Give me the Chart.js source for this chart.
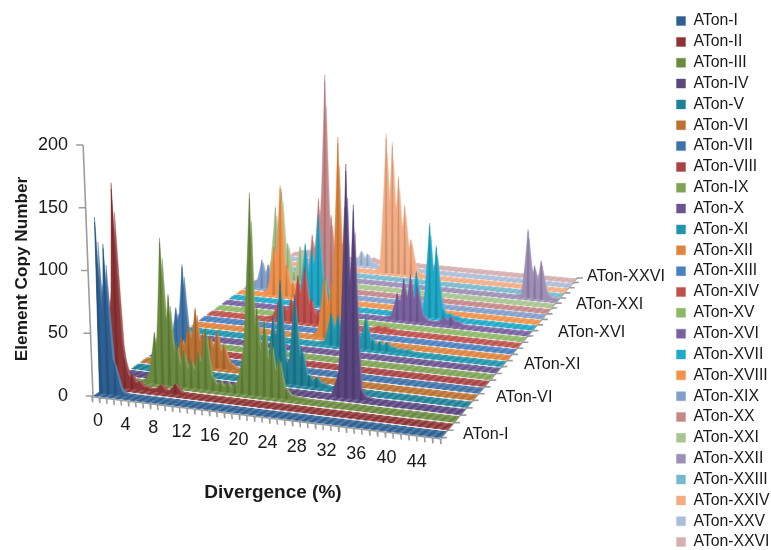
<!DOCTYPE html>
<html>
<head>
<meta charset="utf-8">
<title>Element Copy Number</title>
<style>
  body { margin: 0; background: #fff; }
  canvas { display: block; }
</style>
<script src="https://cdn.jsdelivr.net/npm/chart.js@4"></script>
</head>
<body>
<canvas id="chart" width="771" height="550"></canvas>
<script>
// Copy number per 1% divergence bin, 0 to 45
const atonI     = [141,120,25,3,0,0,0,0,0,0, 0,0,0,0,0,0,0,0,0,0, 0,0,0,0,0,0,0,0,0,0, 0,0,0,0,0,0,0,0,0,0, 0,0,0,0,0,0];
const atonII    = [80,165,25,12,7,3,2,6,2,8, 1,0,0,0,0,0,0,0,0,0, 0,0,0,0,0,0,0,0,0,0, 0,0,0,0,0,0,0,0,0,0, 0,0,0,0,0,0];
const atonIII   = [0,0,0,0,6,42,119,74,36,30, 24,30,50,10,8,8,8,27,162,71, 62,45,33,8,3,2,1,0,0,0, 0,0,0,0,0,0,0,0,0,0, 0,0,0,0,0,0];
const atonIV    = [0,0,0,0,0,0,0,0,0,0, 0,0,0,0,0,0,0,0,0,0, 0,0,0,0,0,0,0,0,0,20, 187,155,8,2,0,0,0,0,0,0, 0,0,0,0,0,0];
const atonV     = [0,0,0,0,0,0,0,0,0,0, 0,0,0,0,0,0,0,0,6,54, 84,17,73,30,9,8,3,0,0,0, 0,0,0,0,0,0,0,0,0,0, 0,0,0,0,0,0];
const atonVI    = [0,0,0,0,6,22,33,48,28,27, 31,20,5,0,0,0,0,0,0,0, 0,0,0,0,0,0,0,0,0,0, 0,0,0,0,0,0,0,0,0,0, 0,0,0,0,0,0];
const atonVII   = [0,0,10,41,78,20,8,0,0,0, 0,0,0,0,0,0,0,0,0,0, 0,0,0,0,0,0,0,0,0,0, 0,0,0,0,0,0,0,0,0,0, 0,0,0,0,0,0];
const atonVIII  = [0,0,0,0,0,0,0,0,0,0, 0,0,0,0,0,0,0,0,0,0, 0,0,0,0,0,0,0,0,0,0, 0,0,0,0,0,0,0,0,0,0, 0,0,0,0,0,0];
const atonIX    = [0,0,0,0,0,0,0,0,0,0, 0,0,0,0,0,0,0,0,0,0, 0,0,0,0,0,0,0,0,0,0, 0,0,0,0,0,0,0,0,0,0, 0,0,0,0,0,0];
const atonX     = [0,0,0,0,0,0,0,0,0,0, 0,0,0,0,0,0,0,0,0,0, 0,0,0,0,0,0,0,0,0,0, 0,0,0,0,0,0,0,0,0,0, 0,0,0,0,0,0];
const atonXI    = [0,0,0,0,0,0,0,0,0,0, 3,0,0,0,0,0,0,0,0,0, 3,28,27,12,10,12,28,9,8,8, 4,3,3,1,0,0,0,0,0,0, 0,0,0,0,0,0];
const atonXII   = [0,0,0,0,0,0,0,0,0,0, 0,0,0,0,0,0,0,0,6,57, 48,176,116,40,5,0,0,0,0,0, 0,0,0,0,0,0,0,0,0,0, 0,0,0,0,0,0];
const atonXIII  = [0,0,0,0,0,0,0,0,0,0, 0,0,0,0,0,0,0,0,0,0, 0,0,0,0,0,0,0,0,0,0, 0,0,0,0,0,0,0,0,0,0, 0,0,0,0,0,0];
const atonXIV   = [0,0,0,0,0,0,0,0,0,3, 16,13,20,42,51,22,11,2,0,0, 0,0,0,0,0,4,4,2,0,0, 0,0,0,0,0,0,0,0,0,0, 0,0,0,0,0,0];
const atonXV    = [0,0,0,0,5,0,0,0,0,0, 0,0,0,0,0,0,0,0,0,0, 0,0,0,0,0,0,0,0,0,0, 0,0,0,0,0,0,0,0,0,0, 0,0,0,0,0,0];
const atonXVI   = [0,0,0,0,0,0,0,0,0,0, 0,0,0,0,0,0,0,0,0,0, 0,0,0,0,0,3,24,38,42,32, 5,2,2,7,8,4,0,0,0,0, 0,0,0,0,0,0];
const atonXVII  = [0,0,0,0,0,0,0,0,0,0, 5,56,52,84,30,8,0,0,0,0, 0,0,0,0,0,0,0,3,40,5, 85,65,8,5,3,0,0,0,0,0, 0,0,0,0,0,0];
const atonXVIII = [0,0,0,0,5,46,103,30,14,3, 0,0,0,0,0,0,0,0,0,0, 0,0,0,0,0,0,0,0,0,0, 0,0,0,0,0,0,0,0,0,0, 0,0,0,0,0,0];
const atonXIX   = [0,6,27,23,4,0,0,0,0,0, 0,0,0,0,0,0,0,0,0,0, 0,0,0,0,0,0,0,0,0,0, 0,0,0,0,0,0,0,0,0,0, 0,0,0,0,0,0];
const atonXX    = [0,0,0,0,0,0,0,0,15,50, 85,202,70,30,10,0,0,0,0,0, 0,0,0,0,0,0,0,0,0,0, 0,0,0,0,0,0,0,0,0,0, 0,0,0,0,0,0];
const atonXXI   = [0,10,69,86,35,8,33,5,0,0, 0,0,0,0,0,0,0,0,0,0, 0,0,0,0,0,0,0,0,0,0, 0,0,0,0,0,0,0,0,0,0, 0,0,0,0,0,0];
const atonXXII  = [0,0,0,0,0,0,0,0,0,0, 0,0,0,0,0,0,0,0,0,0, 0,0,0,0,0,0,0,0,0,0, 0,0,0,0,0,0,0,0,0,0, 3,64,31,36,5,2];
const atonXXIII = [0,0,0,0,0,0,0,0,0,0, 0,0,0,0,0,0,0,0,0,0, 0,0,0,0,0,0,0,0,0,0, 0,0,0,0,0,0,0,0,0,0, 0,0,0,0,0,0];
const atonXXIV  = [0,0,0,0,0,0,0,0,0,0, 0,0,0,0,0,0,5,135,127,95, 67,35,5,0,0,0,0,0,0,0, 0,0,0,0,0,0,0,0,0,0, 0,0,0,0,0,0];
const atonXXV   = [0,0,0,0,0,0,0,0,0,0, 0,5,14,12,3,0,0,0,0,0, 0,0,0,0,0,0,0,0,0,0, 0,0,0,0,0,0,0,0,0,0, 0,0,0,0,0,0];
const atonXXVI  = [0,4,5,6,5,3,0,0,0,0, 0,0,3,3,0,0,0,0,0,0, 0,0,0,0,0,0,0,0,0,0, 0,0,0,0,0,0,0,0,0,0, 0,0,0,0,0,0];

const seriesValues = [atonI, atonII, atonIII, atonIV, atonV, atonVI, atonVII, atonVIII, atonIX, atonX,
  atonXI, atonXII, atonXIII, atonXIV, atonXV, atonXVI, atonXVII, atonXVIII, atonXIX, atonXX,
  atonXXI, atonXXII, atonXXIII, atonXXIV, atonXXV, atonXXVI];
const seriesNames = ['ATon-I','ATon-II','ATon-III','ATon-IV','ATon-V','ATon-VI','ATon-VII','ATon-VIII','ATon-IX','ATon-X',
  'ATon-XI','ATon-XII','ATon-XIII','ATon-XIV','ATon-XV','ATon-XVI','ATon-XVII','ATon-XVIII','ATon-XIX','ATon-XX',
  'ATon-XXI','ATon-XXII','ATon-XXIII','ATon-XXIV','ATon-XXV','ATon-XXVI'];
const seriesColors = ['#2E6093','#8E3436','#6A8A3F','#5B4680','#1F8096','#BA7132','#3F72A8','#AA4244','#7EA355','#6B5590',
  '#2095AC','#DE843E','#4A80C0','#C0504D','#8DB866','#7A62A0','#1FA8C8','#F0924C','#829FCB','#C68788',
  '#A8C490','#9D8FB5','#78BACD','#F4AC84','#ABBED9','#D6AFB0'];
const divergenceTicks = [0,4,8,12,16,20,24,28,32,36,40,44];
const copyTicks = [0,50,100,150,200];
const seriesTicks = ['ATon-I','ATon-VI','ATon-XI','ATon-XVI','ATon-XXI','ATon-XXVI'];
const seriesTickX = [463,496,524,558,576,587];
const seriesTickY = [435,398,365,333,305,277];

const BINS = 46;
const ROWS = 26;
const FONT = '"Liberation Sans", Arial, sans-serif';
const ZERO_Y = 396;       // pixel of copy number 0
const PX_PER_COPY = 1.255;
const BOTTOM = 555;       // legend sits a little low, so the plot runs past the canvas

// Perspective of the floor: corners (93,396) (441,438) (577,278) (296,251)
// Columns left of x=250 lean outwards a little with height, like the wall of the 3D box
const project = (bin, row, copies) => {
  const s = (bin + 0.5) / BINS;
  const t = row / ROWS;
  const w = 1 - 0.04947 * s + 0.2624 * t;
  const px = (326.18 * s + 280.67 * t + 93) / w;
  const py = (20.33 * s - 79.14 * t + 396) / w;
  const rise = copies * PX_PER_COPY / w;
  return { x: px + Math.min(0, px - 250) * rise * 2.5e-4, y: (ZERO_Y - (py - rise)) / PX_PER_COPY };
};

const mix = (hex, other, amount) => {
  const c = [1, 3, 5].map(i => parseInt(hex.substr(i, 2), 16));
  const o = [1, 3, 5].map(i => parseInt(other.substr(i, 2), 16));
  return 'rgb(' + c.map((v, i) => Math.round(v + (o[i] - v) * amount)).join(',') + ')';
};

const GAP = { x: NaN, y: NaN };

// Outline of one row: every bin is drawn as a needle that spreads over its neighbours near the floor
const needleHeight = (values, at) => {
  let top = 0;
  values.forEach((v, bin) => {
    const d = Math.abs(at - bin);
    if (d < 1.1) top = Math.max(top, v * Math.pow(1 - d / 1.1, 1.25));
  });
  return top;
};

const profile = (values, row, factor) => {
  const pts = [];
  const first = values[0] > 0 ? 0 : -0.5;
  pts.push(project(first - 0.2, row, 0));
  for (let at = first; at <= BINS - 0.5; at += 0.25) {
    pts.push(project(at, row, needleHeight(values, at) * factor));
  }
  pts.push(project(BINS - 0.5, row, 0));
  return pts;
};

const coreSpikes = (values, row) => {
  const pts = [];
  values.forEach((v, bin) => {
    if (v < 8) return;
    pts.push(project(bin - 0.2, row, 0), project(bin, row, v * 0.97), project(bin + 0.2, row, 0), GAP);
  });
  return pts;
};

const floorStrip = (row) => [
  project(-0.5, row + 0.03, 0), project(BINS - 0.5, row + 0.03, 0),
  project(BINS - 0.5, row + 0.82, 0), project(-0.5, row + 0.82, 0)
];

const hatchCells = (row) => {
  const pts = [];
  for (let bin = 0; bin < BINS; bin++) {
    pts.push(project(bin - 0.42, row + 0.03, 0), project(bin + 0.08, row + 0.03, 0),
      project(bin + 0.42, row + 0.82, 0), project(bin - 0.08, row + 0.82, 0), GAP);
  }
  return pts;
};

const polygon = (data, color) => ({
  data, backgroundColor: color, borderColor: color, borderWidth: 0.4,
  showLine: true, fill: 'shape', pointRadius: 0, tension: 0, clip: false
});

const axisLines = () => {
  const pts = [project(-0.5, 0, 0), project(-0.5, 0, 200), GAP];
  copyTicks.forEach(c => {
    const p = project(-0.5, 0, c);
    pts.push(p, { x: p.x - 7, y: p.y }, GAP);
  });
  pts.push(project(-0.5, -0.1, 0), project(45.5, -0.1, 0), GAP);
  for (let bin = -0.5; bin <= 45.5; bin++) {
    const p = project(bin, -0.1, 0);
    pts.push(p, { x: p.x + 0.6, y: p.y - 5.5 / PX_PER_COPY }, GAP);
  }
  pts.push(project(45.5, 0, 0), project(45.5, ROWS, 0), GAP);
  for (let row = 0; row <= ROWS; row++) {
    const p = project(45.5, row, 0);
    pts.push(p, { x: p.x + 6, y: p.y + (row % 5 === 0 ? 0.5 : 0) }, GAP);
  }
  return pts;
};

const datasets = [];
seriesValues.forEach((values, i) => {
  const color = seriesColors[i];
  datasets.push(polygon(coreSpikes(values, i + 0.45), mix(color, '#000000', 0.15)));
  datasets.push(Object.assign(polygon(profile(values, i + 0.45, 1), color), { label: seriesNames[i] }));
  datasets.push(polygon(profile(values, i + 0.7, 0.85), mix(color, '#ffffff', 0.2)));
  datasets.push(polygon(hatchCells(i), color));
  datasets.push(polygon(floorStrip(i), mix(color, '#ffffff', 0.18)));
});
datasets.push({
  data: axisLines(), borderColor: '#9c9c9c', borderWidth: 1.6, showLine: true,
  pointRadius: 0, fill: false, clip: false
});

// Both scales are pinned after layout: x counts plain pixels, y keeps a fixed pixels-per-copy
const pixelScale = {
  id: 'pixelScale',
  afterLayout(chart) {
    const { x, y } = chart.scales;
    x.min = x.left;
    x.max = x.right;
    x.configure();
    y.min = (ZERO_Y - y.bottom) / PX_PER_COPY;
    y.max = (ZERO_Y - y.top) / PX_PER_COPY;
    y.configure();
  }
};

const textLabels = {
  id: 'textLabels',
  afterDraw(chart) {
    const ctx = chart.ctx;
    ctx.save();
    ctx.fillStyle = '#1a1a1a';
    ctx.textBaseline = 'middle';
    ctx.textAlign = 'center';
    ctx.font = '18px ' + FONT;
    divergenceTicks.forEach(d => {
      ctx.fillText(String(d), 98 + 6.85 * d + 0.009 * d * d, 421 + 0.93 * d);
    });
    ctx.textAlign = 'left';
    ctx.font = '16.2px ' + FONT;
    seriesTicks.forEach((name, i) => ctx.fillText(name, seriesTickX[i], seriesTickY[i]));
    ctx.textAlign = 'center';
    ctx.font = 'bold 19px ' + FONT;
    ctx.fillText('Divergence (%)', 273, 493);
    ctx.translate(22, 269);
    ctx.rotate(-Math.PI / 2);
    ctx.font = 'bold 17.2px ' + FONT;
    ctx.fillText('Element Copy Number', 0, 0);
    ctx.restore();
  }
};

new Chart(document.getElementById('chart'), {
  type: 'scatter',
  data: { datasets },
  plugins: [pixelScale, textLabels],
  options: {
    responsive: false,
    animation: false,
    layout: { autoPadding: false, padding: { left: 0, top: 0, right: -8.5, bottom: 550 - BOTTOM } },
    plugins: {
      tooltip: { enabled: false },
      legend: {
        position: 'right',
        align: 'end',
        labels: {
          boxWidth: 9,
          boxHeight: 9,
          padding: 5.04,
          color: '#1a1a1a',
          font: { family: FONT, size: 15.8 },
          filter: item => !!item.text
        }
      }
    },
    scales: {
      x: { type: 'linear', display: false, min: 0, max: 771 },
      y: {
        type: 'linear',
        min: (ZERO_Y - BOTTOM) / PX_PER_COPY,
        max: ZERO_Y / PX_PER_COPY,
        afterBuildTicks: scale => { scale.ticks = copyTicks.map(value => ({ value })); },
        afterFit: scale => { scale.width = 70; },
        grid: { display: false, drawTicks: false },
        border: { display: false },
        ticks: { color: '#1a1a1a', padding: 2, font: { family: FONT, size: 18 } }
      }
    }
  }
});
</script>
</body>
</html>
